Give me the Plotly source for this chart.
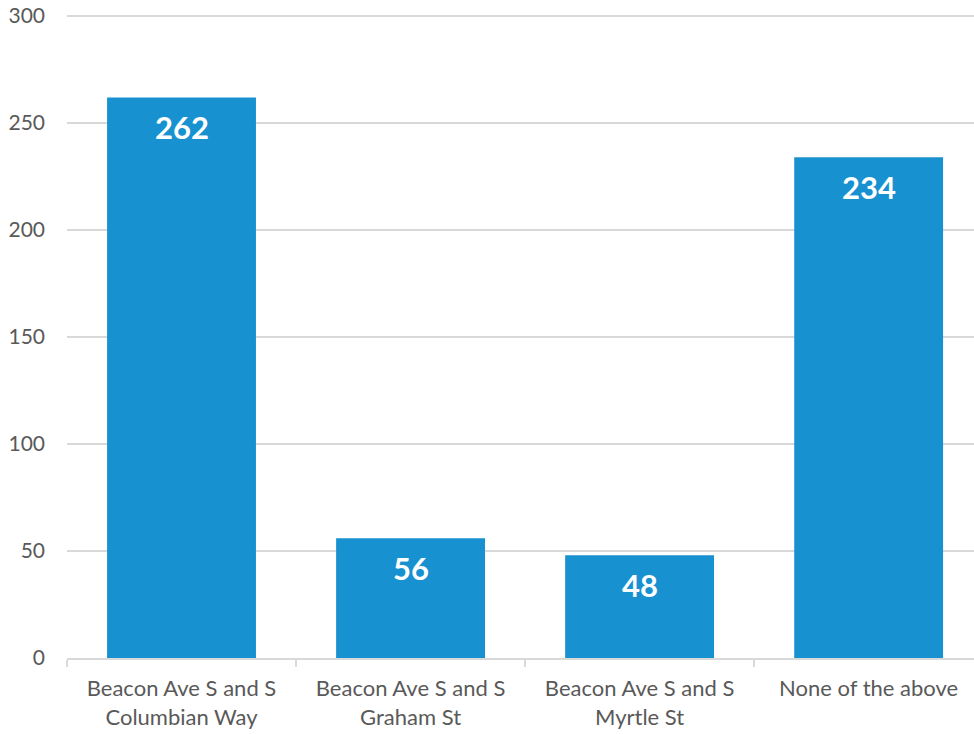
import plotly.graph_objects as go

categories = ["Beacon Ave S and S<br>Columbian Way", "Beacon Ave S and S<br>Graham St",
              "Beacon Ave S and S<br>Myrtle St", "None of the above"]
values = [262, 56, 48, 234]
y_ticks = [0, 50, 100, 150, 200, 250, 300]

FONT = "Lato"
GREY = "#595959"
LINE = "#d9d9d9"
BAR = "#1891d0"

fig = go.Figure(go.Bar(
    x=categories, y=values, marker=dict(color=BAR, line=dict(width=0)),
    hoverinfo="skip",
))

for c, v in zip(categories, values):
    fig.add_annotation(x=c, y=v, text=f"<b>{v}</b>", showarrow=False,
                       yanchor="top", yshift=-9,
                       font=dict(family=FONT, size=31, color="white"))

fig.update_layout(
    width=974, height=734,
    margin=dict(l=67, r=0, t=15, b=76),
    paper_bgcolor="white", plot_bgcolor="white",
    bargap=0.35, showlegend=False,
    font=dict(family=FONT, size=20, color=GREY),
)
fig.update_xaxes(
    type="category", range=[-0.5, 3.46],
    showline=True, linecolor=LINE, linewidth=2,
    ticks="outside", tickson="boundaries", ticklen=7, tickcolor=LINE, tickwidth=2,
    showgrid=False, ticklabelstandoff=10,
    tickfont=dict(family=FONT, size=22, color=GREY),
)
fig.update_yaxes(
    range=[0, 300.5], tickvals=y_ticks, showgrid=True, gridcolor=LINE, gridwidth=2,
    zeroline=False, showline=False, ticks="", ticklabelstandoff=21,
    tickfont=dict(family=FONT, size=21, color=GREY),
)

fig.write_html("out.html", config={"displayModeBar": False},
               post_script="document.body.style.margin='0';")
